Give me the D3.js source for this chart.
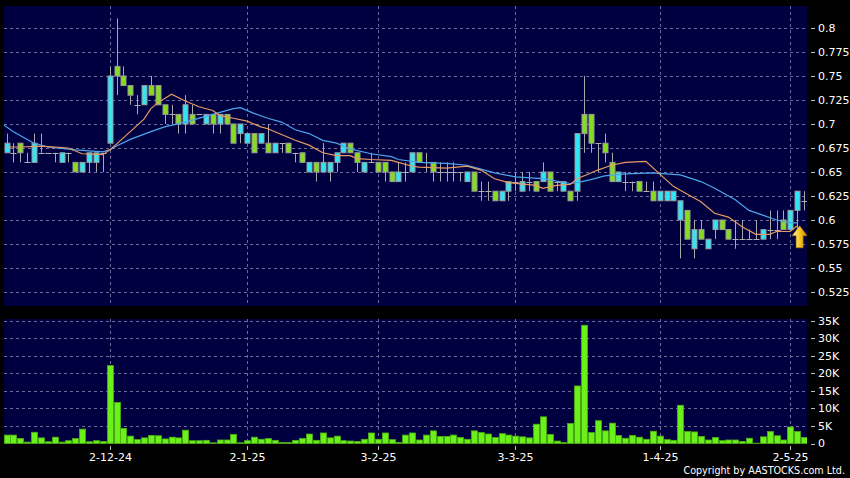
<!DOCTYPE html>
<html><head><meta charset="utf-8">
<script src="https://cdn.jsdelivr.net/npm/d3@7"></script>
<style>html,body{margin:0;padding:0;background:#000;}svg{display:block;}</style>
</head><body>
<svg id="chart" width="850" height="478"></svg>
<script>
// ---------- data ----------
const tickIndex  = [15, 35, 54, 74, 95, 114];
const tickLabels = ["2-12-24", "2-1-25", "3-2-25", "3-3-25", "1-4-25", "2-5-25"];
const priceTicks = [0.525, 0.55, 0.575, 0.6, 0.625, 0.65, 0.675, 0.7, 0.725, 0.75, 0.775, 0.8];
const volumeTicks = [0, 5000, 10000, 15000, 20000, 25000, 30000, 35000];

const open = [.67,.67,.68,.66,.66,.67,.67,.67,.66,.67, .66,.65,.66,.66,.67,.68,.76,.75,.74,.72,
  .72,.74,.74,.72,.71,.71,.70,.71,.71,.70, .71,.70,.71,.70,.69,.68,.69,.68,.68,.67,
  .68,.68,.67,.67,.65,.66,.65,.65,.66,.67, .68,.67,.65,.66,.66,.66,.65,.64,.65,.65,
  .67,.66,.66,.65,.65,.65,.65,.64,.65,.63, .63,.63,.62,.63,.64,.63,.64,.64,.64,.65,
  .64,.63,.63,.63,.71,.71,.68,.68,.66,.64, .64,.64,.64,.63,.63,.62,.62,.62,.60,.61,
  .57,.59,.57,.59,.60,.59,.58,.58,.58,.58, .58,.59,.59,.60,.59,.61,.62];
const high = [.69,.68,.68,.67,.69,.69,.67,.67,.67,.67, .66,.66,.67,.67,.67,.76,.81,.76,.74,.73,
  .74,.75,.74,.72,.72,.71,.73,.72,.71,.71, .71,.71,.71,.70,.70,.69,.69,.69,.70,.68,
  .68,.68,.67,.67,.66,.66,.68,.66,.67,.68, .68,.67,.66,.67,.66,.66,.65,.66,.66,.67,
  .67,.67,.66,.66,.66,.66,.65,.65,.65,.64, .64,.63,.63,.64,.65,.65,.65,.64,.66,.65,
  .64,.64,.63,.69,.75,.71,.68,.69,.67,.65, .65,.64,.64,.64,.64,.63,.63,.63,.62,.61,
  .60,.60,.58,.60,.60,.59,.60,.60,.59,.60, .59,.61,.61,.61,.61,.63,.63];
const low = [.67,.66,.66,.66,.66,.67,.67,.66,.66,.66, .65,.65,.65,.65,.65,.68,.73,.74,.72,.71,
  .72,.73,.72,.70,.70,.69,.69,.70,.71,.70, .69,.69,.70,.68,.68,.68,.67,.68,.67,.67,
  .67,.67,.66,.66,.65,.64,.65,.64,.65,.67, .67,.65,.65,.66,.65,.64,.64,.64,.64,.65,
  .66,.65,.64,.64,.64,.64,.64,.64,.63,.62, .62,.62,.62,.62,.63,.63,.63,.63,.64,.63,
  .63,.63,.62,.62,.67,.67,.65,.66,.64,.64, .63,.63,.63,.63,.62,.62,.62,.62,.56,.58,
  .56,.58,.57,.58,.59,.58,.57,.58,.58,.58, .58,.58,.58,.59,.59,.59,.61];
const close = [.68,.67,.67,.66,.68,.67,.67,.67,.67,.67, .65,.66,.67,.67,.67,.75,.75,.74,.73,.72,
  .74,.73,.72,.71,.71,.70,.72,.70,.71,.71, .70,.71,.70,.68,.70,.69,.67,.69,.67,.68,
  .68,.67,.67,.66,.66,.65,.66,.66,.67,.68, .67,.66,.66,.66,.65,.65,.64,.65,.65,.67,
  .66,.66,.65,.65,.65,.65,.65,.65,.63,.63, .63,.62,.63,.64,.64,.64,.64,.63,.65,.63,
  .64,.64,.62,.69,.69,.68,.68,.67,.64,.65, .64,.64,.63,.63,.62,.63,.63,.63,.62,.58,
  .59,.58,.58,.60,.59,.58,.58,.58,.58,.58, .59,.59,.59,.59,.61,.63,.62];
const volume = [2400,2400,1400,400,3200,1600,500,1800,400,800, 1400,4100,500,800,600,22200,11700,4300,2100,1100,
  1600,2300,2200,1300,1800,1600,3800,800,800,900, 200,1000,1000,2600,200,800,1800,1200,1400,900,
  300,300,900,1400,2700,900,3000,1600,2100,800, 700,600,1200,3000,1200,3000,1100,300,2400,3000,
  1000,2400,3600,2000,2000,2400,1700,1200,3600,3100, 2700,1700,2800,2400,2100,1900,1600,5500,7600,2600,
  700,300,5700,16400,33700,3100,6500,3600,5800,2300, 1500,2300,1800,1200,3500,2100,1100,900,10900,3400,
  3300,2000,1000,1700,800,1000,1000,600,1500,100, 1900,3400,2200,1000,4700,3400,1700];
// moving averages: [candle index, value]
const ma10 = [[0,.676],[2,.676],[5,.677],[9,.675],[11,.669],[14,.668],[15,.673],[16,.679],[18,.692],[20,.705],
  [21,.716],[22,.722],[24,.731],[26,.724],[28,.718],[30,.714],[31,.709],[33,.706],[35,.703],[37,.697],
  [38,.695],[40,.689],[42,.683],[44,.678],[46,.670],[48,.667],[50,.667],[51,.664],[53,.663],[56,.662],
  [57,.660],[59,.656],[60,.655],[64,.654],[67,.656],[69,.652],[71,.643],[73,.639],[77,.636],[78,.633],
  [80,.636],[82,.637],[83,.643],[85,.649],[86,.652],[88,.657],[90,.660],[93,.661],[95,.648],[97,.635],
  [98,.631],[101,.619],[103,.607],[105,.603],[107,.593],[109,.585],[111,.585],[112,.588],[114,.588],[115,.594]];
const ma20 = [[-0.4,.699],[1,.692],[4,.680],[6,.676],[10,.673],[14,.671],[15,.673],[16,.677],[18,.684],[21,.692],
  [23,.697],[26,.702],[30,.710],[33,.716],[34,.717],[36,.711],[38,.706],[40,.702],[42,.694],[44,.690],
  [46,.683],[48,.680],[50,.674],[53,.669],[56,.666],[57,.663],[60,.660],[64,.659],[67,.657],[69,.653],
  [71,.649],[74,.645],[78,.643],[82,.638],[83,.639],[85,.642],[87,.646],[90,.648],[94,.649],[98,.647],
  [101,.640],[103,.633],[106,.621],[108,.610],[110,.605],[112,.600],[114,.597],[115,.597]];
const markerIndex = 115, markerTop = 0.594, markerBottom = 0.571;

// ---------- layout ----------
const svg = d3.select("#chart");
const M = {left: 4, right: 807, top: 6, bottom: 306};
const V = {top: 319, bottom: 444};
const n = open.length;

const x = d3.scaleLinear().domain([0, n - 1]).range([6.5, 804]);
const y = d3.scaleLinear().domain([0.5104, 0.8229]).range([M.bottom, M.top]);
const yv = d3.scaleLinear().domain([0, 35490]).range([443.5, V.top]);

const gridCol = "#6c6c9a", fg = "#ffffff";
svg.append("rect").attr("width", 850).attr("height", 478).attr("fill", "#000");
svg.append("rect").attr("x", M.left).attr("y", M.top).attr("width", M.right - M.left).attr("height", M.bottom - M.top).attr("fill", "#000040");
svg.append("rect").attr("x", M.left).attr("y", V.top).attr("width", M.right - M.left).attr("height", V.bottom - V.top).attr("fill", "#000040");

const defs = svg.append("defs");
defs.append("clipPath").attr("id", "cm").append("rect").attr("x", M.left).attr("y", M.top).attr("width", M.right - M.left).attr("height", M.bottom - M.top);
defs.append("clipPath").attr("id", "cv").append("rect").attr("x", M.left).attr("y", V.top).attr("width", M.right - M.left).attr("height", V.bottom - V.top);
const grad = defs.append("linearGradient").attr("id", "gold").attr("x1", 0).attr("x2", 1).attr("y1", 0).attr("y2", 0);
grad.append("stop").attr("offset", "0%").attr("stop-color", "#fff6b0");
grad.append("stop").attr("offset", "50%").attr("stop-color", "#f7c825");
grad.append("stop").attr("offset", "100%").attr("stop-color", "#c98a00");

const crisp = v => Math.round(v) + 0.5;

// grids
const gMain = svg.append("g");
priceTicks.forEach(t => {
  gMain.append("line").attr("x1", M.left).attr("x2", M.right).attr("y1", crisp(y(t))).attr("y2", crisp(y(t)))
    .attr("stroke", gridCol).attr("stroke-dasharray", "3,3");
});
volumeTicks.slice(1).forEach(t => {
  gMain.append("line").attr("x1", M.left).attr("x2", M.right).attr("y1", crisp(yv(t))).attr("y2", crisp(yv(t)))
    .attr("stroke", gridCol).attr("stroke-dasharray", "3,3");
});
tickIndex.forEach(i => {
  const xx = crisp(x(i));
  gMain.append("line").attr("x1", xx).attr("x2", xx).attr("y1", M.top).attr("y2", M.bottom).attr("stroke", gridCol).attr("stroke-dasharray", "3,3");
  gMain.append("line").attr("x1", xx).attr("x2", xx).attr("y1", V.top).attr("y2", V.bottom).attr("stroke", gridCol).attr("stroke-dasharray", "3,3");
});

// candles
const bw = 5;
const gc = svg.append("g").attr("clip-path", "url(#cm)");
d3.range(n).forEach(i => {
  const cx = Math.round(x(i)) + 0.5;
  gc.append("line").attr("x1", cx).attr("x2", cx).attr("y1", y(high[i])).attr("y2", y(low[i]))
    .attr("stroke", "#a8a8a8").attr("stroke-width", 1);
  if (open[i] === close[i]) {
    gc.append("line").attr("x1", cx - bw / 2 - 0.5).attr("x2", cx + bw / 2 + 0.5)
      .attr("y1", crisp(y(close[i]))).attr("y2", crisp(y(close[i]))).attr("stroke", "#b0b0b0");
  } else {
    const top = y(Math.max(open[i], close[i])), bot = y(Math.min(open[i], close[i]));
    gc.append("rect").attr("x", cx - bw / 2).attr("y", top).attr("width", bw).attr("height", bot - top)
      .attr("fill", close[i] > open[i] ? "#33e4f4" : "#86dc1e").attr("stroke", "#9a9a9a").attr("stroke-width", 1);
  }
});

// moving averages
const line = d3.line().x(d => x(d[0])).y(d => y(d[1]));
gc.append("path").datum(ma20).attr("d", line).attr("fill", "none").attr("stroke", "#4da6ea").attr("stroke-width", 1.2);
gc.append("path").datum(ma10).attr("d", line).attr("fill", "none").attr("stroke", "#e89a62").attr("stroke-width", 1.2);

// marker arrow
const ax = x(markerIndex) + 2.5, ay = y(markerTop);
const ah = y(markerBottom) - ay;
const arrow = d3.path();
arrow.moveTo(ax, ay);
arrow.lineTo(ax + 7.5, ay + ah * 0.45);
arrow.lineTo(ax + 3.5, ay + ah * 0.45);
arrow.lineTo(ax + 3.5, ay + ah);
arrow.lineTo(ax - 3.5, ay + ah);
arrow.lineTo(ax - 3.5, ay + ah * 0.45);
arrow.lineTo(ax - 7.5, ay + ah * 0.45);
arrow.closePath();
svg.append("path").attr("d", arrow.toString()).attr("fill", "url(#gold)").attr("stroke", "#b07800").attr("stroke-width", 0.6);

// volume bars
const gv = svg.append("g").attr("clip-path", "url(#cv)");
gv.selectAll("rect").data(volume).join("rect")
  .attr("x", (d, i) => Math.round(x(i)) - 2.5).attr("width", 6)
  .attr("y", d => yv(d)).attr("height", d => yv(0) - yv(d))
  .attr("fill", "#6cf01a").attr("stroke", "#4cb012").attr("stroke-width", 0.8);

// right axes
const font = "DejaVu Sans, Verdana, sans-serif";
const fmtP = v => String(+v.toFixed(3));
const fmtV = v => v === 0 ? "0" : (v / 1000) + "K";
priceTicks.forEach(t => {
  svg.append("line").attr("x1", 811).attr("x2", 815).attr("y1", crisp(y(t))).attr("y2", crisp(y(t))).attr("stroke", "#bbb");
  svg.append("text").attr("x", 818).attr("y", y(t)).attr("dy", "0.36em").attr("fill", fg)
    .attr("font-family", font).attr("font-size", 11).text(fmtP(t));
});
volumeTicks.forEach(t => {
  svg.append("line").attr("x1", 811).attr("x2", 815).attr("y1", crisp(yv(t))).attr("y2", crisp(yv(t))).attr("stroke", "#bbb");
  svg.append("text").attr("x", 818).attr("y", yv(t)).attr("dy", "0.36em").attr("fill", fg)
    .attr("font-family", font).attr("font-size", 11).text(fmtV(t));
});

// x axis
tickIndex.forEach((i, k) => {
  const xx = crisp(x(i));
  svg.append("line").attr("x1", xx).attr("x2", xx).attr("y1", 446).attr("y2", 450).attr("stroke", "#bbb");
  svg.append("text").attr("x", xx).attr("y", 461).attr("text-anchor", "middle").attr("fill", fg)
    .attr("font-family", font).attr("font-size", 11).text(tickLabels[k]);
});

svg.append("text").attr("x", 845).attr("y", 474).attr("text-anchor", "end").attr("fill", fg)
  .attr("font-family", font).attr("font-size", 9.6).text("Copyright by AASTOCKS.com Ltd.");
</script>
</body></html>
